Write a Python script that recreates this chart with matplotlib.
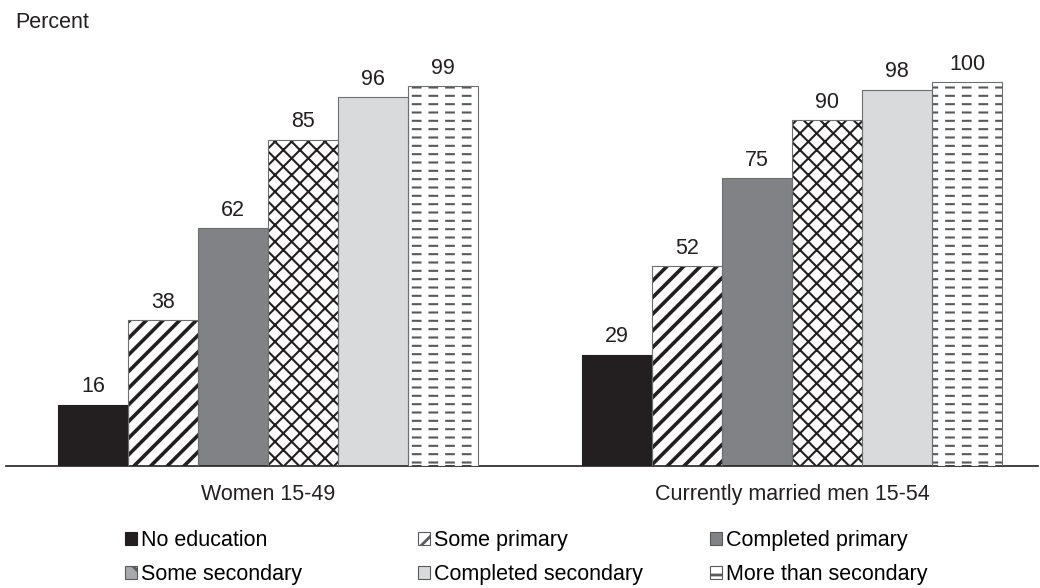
import matplotlib
matplotlib.use('Agg')
import matplotlib.pyplot as plt
import matplotlib.patches as mpatches

plt.rcParams['font.family'] = ['Liberation Sans', 'DejaVu Sans']

groups = ['Women 15-49', 'Currently married men 15-54']
categories = ['No education', 'Some primary', 'Completed primary',
              'Some secondary', 'Completed secondary', 'More than secondary']
women = [16, 38, 62, 85, 96, 99]
men = [29, 52, 75, 90, 98, 100]

# style per category: face colour, hatch, hatch colour, hatch width
styles = [
    ('#231f20', '', '#231f20', 1.0),
    ('white', '//', '#231f20', 2.6),
    ('#808285', '', '#808285', 1.0),
    ('white', 'xx', '#231f20', 1.5),
    ('#d9dadb', '', '#d9dadb', 1.0),
    ('white', '--', '#58595b', 1.5),
]
# small legend swatches
legend_faces = ['#231f20', 'white', '#808285', '#a7a9ac', '#d9dadb', 'white']
legend_hatch = ['', '/', '', '\\', '', '-']
FS = 15.5

fig = plt.figure(figsize=(10.4, 5.88), dpi=100)
ax = fig.add_axes([6 / 1040, 1 - 466 / 588, 1032 / 1040, (466 - 62.8) / 588])

group_start = [0.0, 7.486]
values = [women, men]
for i, cat in enumerate(categories):
    face, hatch, hcol, hlw = styles[i]
    plt.rcParams['hatch.linewidth'] = hlw
    plt.rcParams['hatch.color'] = hcol
    xs = [group_start[g] + i for g in range(2)]
    vals = [values[g][i] for g in range(2)]
    ax.bar(xs, vals, width=1.0, color=face, hatch=hatch,
           edgecolor=hcol if hatch else face, linewidth=0, zorder=2)
    # thin outline
    ax.bar(xs, vals, width=1.0, fill=False,
           edgecolor='#6d6e71' if face != '#231f20' else '#231f20',
           linewidth=0.8, zorder=4)
    if i == 5:
        # break the horizontal lines into dashes
        plt.rcParams['hatch.linewidth'] = 5.0
        ax.bar(xs, vals, width=1.0, fill=False, hatch='|', edgecolor='white',
               linewidth=0, zorder=3)
    for x, v in zip(xs, vals):
        ax.text(x, v + 1.9, str(v), ha='center', va='bottom', fontsize=FS, color='#231f20')

ax.set_xlim(-1.243, 13.5)
ax.set_ylim(0, 105)
for s in ['top', 'right', 'left']:
    ax.spines[s].set_visible(False)
ax.spines['bottom'].set_color('#231f20')
ax.spines['bottom'].set_linewidth(1.2)
ax.set_yticks([])
ax.set_xticks([g + 2.5 for g in group_start])
ax.set_xticklabels(groups, fontsize=FS, color='#231f20')
ax.tick_params(axis='x', length=0, pad=13)

fig.text(15 / 1040, 1 - 23 / 588, 'Percent', fontsize=FS, va='center', ha='left', color='#231f20')

plt.rcParams['hatch.linewidth'] = 2.0
plt.rcParams['hatch.color'] = '#231f20'
handles = []
for i in range(6):
    ec = '#231f20' if legend_faces[i] == '#231f20' else '#58595b'
    handles.append(mpatches.Patch(facecolor=legend_faces[i], edgecolor=ec,
                                  hatch=legend_hatch[i], linewidth=0.8))

col_x = [125, 418, 710]
for c in range(3):
    hs = [handles[c], handles[c + 3]]
    ls = [categories[c], categories[c + 3]]
    fig.legend(hs, ls, loc='upper left', bbox_to_anchor=(col_x[c] / 1040, 1 - 530 / 588),
               frameon=False, fontsize=FS, handlelength=0.56, handleheight=0.56,
               handletextpad=0.2, borderpad=0, borderaxespad=0, labelspacing=0.6)

fig.savefig('out.png', dpi=100)
